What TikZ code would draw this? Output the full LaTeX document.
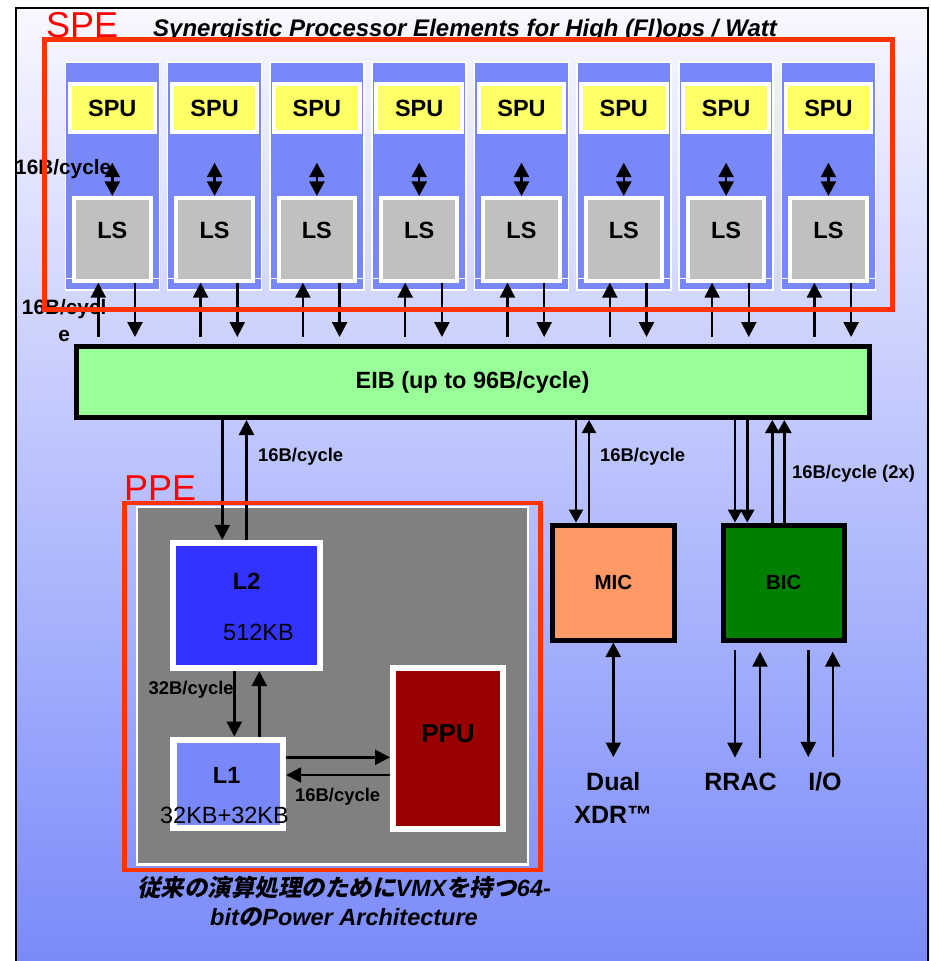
\documentclass[tikz,border=0pt]{standalone}
\usepackage{fontspec}
\setmainfont{Liberation Sans}
\newfontfamily\jpfont[FakeSlant=0.2]{Noto Sans CJK JP}
\usetikzlibrary{arrows.meta,calc}

\definecolor{bgtop}{RGB}{248,248,255}
\definecolor{bgmid}{RGB}{208,212,250}
\definecolor{bgbot}{RGB}{122,138,250}
\definecolor{speblue}{RGB}{120,136,248}
\definecolor{spuyellow}{RGB}{255,255,102}
\definecolor{lsgray}{RGB}{192,192,192}
\definecolor{eibgreen}{RGB}{153,255,153}
\definecolor{ppegray}{RGB}{128,128,128}
\definecolor{l2blue}{RGB}{51,51,255}
\definecolor{ppured}{RGB}{153,0,0}
\definecolor{micorange}{RGB}{255,153,102}
\definecolor{bicgreen}{RGB}{0,128,0}
\definecolor{framered}{RGB}{255,51,0}

\tikzset{
  arr/.style={line width=2.4pt,-{Triangle[length=15pt,width=15pt]}},
  arrs/.style={line width=2.4pt,-{Triangle[length=13pt,width=14pt]}},
  dbl/.style={line width=2.4pt,{Triangle[length=14.5pt,width=15pt]}-{Triangle[length=14.5pt,width=15pt]}},
  big/.style={font=\fontsize{23.5}{28}\selectfont\bfseries},
  plain/.style={font=\fontsize{23.5}{28}\selectfont},
  small/.style={font=\fontsize{18.4}{27}\selectfont\bfseries,inner sep=0pt},
  spesmall/.style={font=\fontsize{20.8}{27}\selectfont\bfseries,inner sep=0pt},
  lbl/.style={font=\fontsize{25}{32.6}\selectfont\bfseries,inner xsep=0pt},
  txt/.style={inner sep=0pt,anchor=base},
  spebox/.style={draw=white,line width=1.5pt,fill=speblue,minimum width=94pt,minimum height=228pt,inner sep=0pt},
  spubox/.style={draw=white,line width=4pt,fill=spuyellow,minimum width=85.6pt,minimum height=48pt,inner sep=0pt,big},
  lsbox/.style={draw=white,line width=4pt,fill=lsgray,minimum width=76.5pt,minimum height=82.8pt,inner sep=0pt,big,text height=17pt,text depth=18pt},
  cutline/.style={white,line width=0.8pt},
  blackbox/.style={draw=black,line width=5pt,inner sep=0pt},
  cachebox/.style={draw=white,line width=6.3pt,inner sep=0pt},
  redbox/.style={draw=framered,line width=5pt,inner sep=0pt},
  redlbl/.style={text=red,font=\fontsize{36}{40}\selectfont,inner sep=0pt,anchor=base west}
}

\begin{document}
\begin{tikzpicture}[x=1pt,y=-1pt]
\useasboundingbox (0,0) rectangle (930,961);

% slide background
\shade[top color=bgtop,middle color=bgmid,bottom color=bgbot] (15,7) rectangle (929,961);
\draw[line width=2pt] (16,975) -- (16,8) -- (928,8) -- (928,975);

% the eight SPEs
\foreach \i in {1,...,8}{
  \pgfmathsetmacro{\cx}{112.3+(\i-1)*102.3}
  \node[spebox] (col\i) at (\cx,176) {};
  \draw[cutline] (col\i.west |- 0,278) -- (col\i.east |- 0,278);
  \node[spubox] (spu\i) at (\cx,108.2) {SPU};
  \node[lsbox] (ls\i) at (\cx,239.3) {LS};
  \coordinate (sl\i) at (\cx,162.7);
  \draw[dbl] (sl\i) -- (ls\i.north);
  \coordinate (eu\i) at (\cx-14,337);
  \coordinate (ed\i) at (\cx+22.7,337);
  \draw[arr] (eu\i) -- (eu\i |- ls\i.south);
  \draw[arr] (ed\i |- ls\i.south) -- (ed\i);
}
\node[spesmall,anchor=base west] (bw1) at (15,174.3) {16B/cycle};
\node[spesmall,align=center,anchor=north] (bw2) at (64.2,299) {16B/cycl\\e};

% bus
\node[blackbox,fill=eibgreen,big,minimum width=793pt,minimum height=71pt] (eib) at (472.5,382) {EIB (up to 96B/cycle)};

% PPE
\node[draw=white,line width=2.3pt,fill=ppegray,minimum width=391pt,minimum height=357.5pt] (ppe) at (332.3,685.8) {};
\node[cachebox,fill=l2blue,minimum width=146.4pt,minimum height=125pt] (l2) at (246.5,605.5) {};
\node[txt,big] at (246.7,589.3) {L2};
\node[txt,plain] at (258.5,640.7) {512KB};
\node[cachebox,fill=speblue,minimum width=109.7pt,minimum height=88.6pt] (l1) at (228.2,784) {};
\node[txt,big] at (226.7,783.3) {L1};
\node[txt,plain] at (224.5,823.3) {32KB+32KB};
\node[draw=white,line width=6pt,fill=ppured,minimum width=110pt,minimum height=160.7pt,inner sep=0pt,
  font=\fontsize{26}{30}\selectfont\bfseries,text height=18.6pt,text depth=30.6pt] (ppu) at (448,748.3) {PPU};

\coordinate (l2in) at (222.3,0);
\draw[arr] (l2in |- eib.south) -- (l2in |- l2.north);
\draw[arr] (l2.north) -- (l2.north |- eib.south);
\node[small,anchor=base west] (bw3) at (258,461.5) {16B/cycle};

\coordinate (cdn) at (234.3,0);
\coordinate (cup) at (259.3,0);
\draw[arr] (cdn |- l2.south) -- (cdn |- l1.north);
\draw[arr] (cup |- l1.north) -- (cup |- l2.south);
\node[small,anchor=base west] (bw4) at (148.5,694) {32B/cycle};

\coordinate (toppu) at (0,757.3);
\coordinate (frompu) at (0,775);
\draw[arr] (l1.east |- toppu) -- (ppu.west |- toppu);
\draw[arr] (ppu.west |- frompu) -- (l1.east |- frompu);
\node[small,anchor=base west] (bw5) at (295,801.7) {16B/cycle};

% memory and I/O controllers
\node[blackbox,fill=micorange,minimum width=121.7pt,minimum height=115pt,font=\fontsize{20.5}{24}\selectfont\bfseries] (mic) at (613.3,582.5) {MIC};
\node[blackbox,fill=bicgreen,minimum width=120.9pt,minimum height=115pt,font=\fontsize{20.5}{24}\selectfont\bfseries] (bic) at (783.8,582.5) {BIC};

\coordinate (mdn) at (576,0);
\coordinate (mup) at (589,0);
\draw[arrs] (mdn |- eib.south) -- (mdn |- mic.north);
\draw[arrs] (mup |- mic.north) -- (mup |- eib.south);
\node[small,anchor=base west] (bw6) at (600,461.5) {16B/cycle};

\foreach \x in {735,747.3}
  \draw[arrs] (\x,0 |- eib.south) -- (\x,0 |- bic.north);
\foreach \x in {772.3,784.3}
  \draw[arrs] (\x,0 |- bic.north) -- (\x,0 |- eib.south);
\node[small,anchor=base west] (bw7) at (792,478.7) {16B/cycle (2x)};

\node[lbl,align=center,anchor=north,inner ysep=15.4pt] (xdr) at (613.3,757) {Dual\\XDR™};
\draw[dbl] (mic.south) -- (xdr.north);

\node[lbl,anchor=base,inner ysep=15.4pt] (rrac) at (740.5,790.7) {RRAC};
\node[lbl,anchor=base,inner ysep=15.4pt] (io) at (825,790.7) {I/O};
\coordinate (rdn) at (735,650);
\coordinate (rup) at (760,651.7);
\coordinate (idn) at (808.3,650);
\coordinate (iup) at (832.7,651.7);
\draw[arr] (rdn) -- (rdn |- rrac.north);
\draw[arr] (rup |- rrac.north) -- (rup);
\draw[arr] (idn) -- (idn |- io.north);
\draw[arr] (iup |- io.north) -- (iup);

% captions
\node[txt,font=\fontsize{23.5}{28.3}\selectfont\bfseries\itshape,align=center] (capt) at (344,925)
  {{\jpfont 従来の演算処理のために}VMX{\jpfont を持つ}64-\\bit{\jpfont の}Power Architecture};
\node[txt,font=\fontsize{24}{28}\selectfont\bfseries\itshape] (title) at (465,36.5)
  {Synergistic Processor Elements for High (Fl)ops / Watt};

% SPE and PPE frames
\node[redbox,minimum width=847.5pt,minimum height=270.5pt] (spe) at (468.25,174.25) {};
\node[redlbl] (spelbl) at (46,37) {SPE};
\node[redbox,line width=4.8pt,minimum width=416pt,minimum height=367pt] (pper) at (332.5,686.5) {};
\node[redlbl] (ppelbl) at (124,500) {PPE};
\end{tikzpicture}
\end{document}
